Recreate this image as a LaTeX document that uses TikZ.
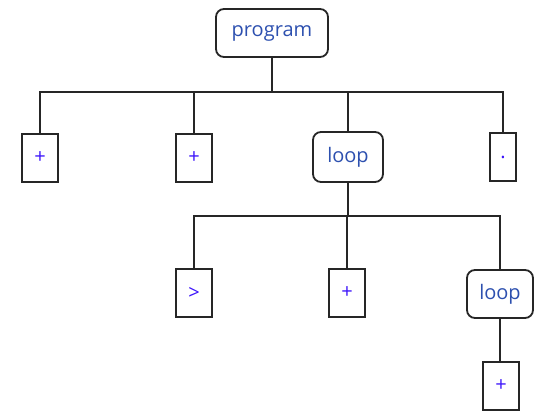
\documentclass[tikz,border=0pt]{standalone}
\usepackage{fontspec}
\setmainfont{Open Sans}
\definecolor{wordblue}{RGB}{45,80,175}
\definecolor{symblue}{RGB}{60,20,250}
\begin{document}
\begin{tikzpicture}[x=1pt,y=-1pt,
  every node/.style={draw=black!85, line width=1.8pt, inner sep=0pt, font=\fontsize{20}{20}\selectfont},
  wordbox/.style={rounded corners=8pt, text=wordblue},
  symbox/.style={minimum width=36pt, minimum height=48pt, text=symblue},
  link/.style={draw=black!85, line width=1.8pt}]
\useasboundingbox (0,0) rectangle (538,411);
% top level
\node[wordbox, minimum width=112pt, minimum height=48pt] (prog) at (272,33) {program};
\node[symbox] (p1) at (40,158) {+};
\node[symbox] (p2) at (194,158) {+};
\node[wordbox, minimum width=70pt, minimum height=50pt] (loop1) at (348,157) {loop};
\node[symbox, minimum width=26pt] (dot) at (503,157) {.};
% second level
\node[symbox] (gt) at (194,293) {>};
\node[symbox] (p3) at (347,293) {+};
\node[wordbox, minimum width=66pt, minimum height=48pt] (loop2) at (500,294) {loop};
\node[symbox] (p4) at (501,386) {+};
% bus levels
\coordinate (bus1) at (0,92);
\coordinate (bus2) at (0,216);
% connectors
\foreach \c in {p1,p2,loop1,dot}
  \draw[link] (prog.south) -- (prog.south |- bus1) -| (\c.north);
\foreach \c in {gt,p3,loop2}
  \draw[link] (loop1.south) -- (loop1.south |- bus2) -| (\c.north);
\draw[link] (loop2.south) -- (loop2.south |- p4.north);
\end{tikzpicture}
\end{document}
